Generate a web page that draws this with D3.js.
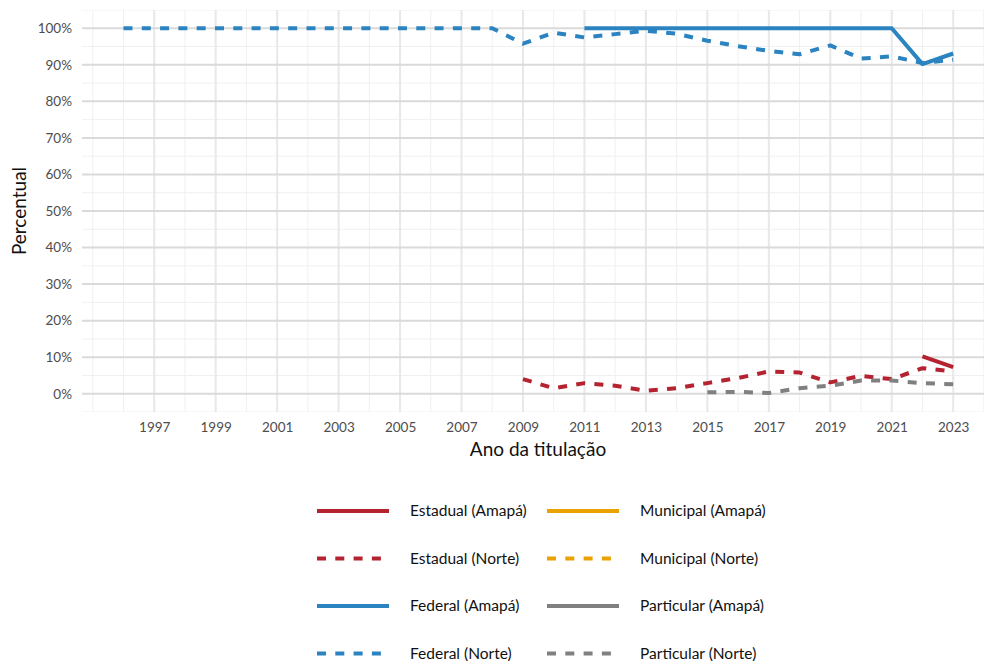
<!DOCTYPE html>
<html>
<head>
<meta charset="utf-8">
<script src="https://cdn.jsdelivr.net/npm/d3@7"></script>
<style>
  body { margin: 0; background: #fff; }
  svg text { font-family: Lato, "Open Sans", sans-serif; }
</style>
</head>
<body>
<div id="chart"></div>
<script>
// Percentual de titulados por dependência administrativa, Amapá vs Norte

const years = d3.range(1996, 2024);
const xTicks = d3.range(1997, 2024, 2);
const yTicks = d3.range(0, 101, 10);

const federalNorte = [
  [1996, 100], [1997, 100], [1998, 100], [1999, 100], [2000, 100], [2001, 100],
  [2002, 100], [2003, 100], [2004, 100], [2005, 100], [2006, 100], [2007, 100],
  [2008, 100], [2009, 95.8], [2010, 98.8], [2011, 97.5], [2012, 98.4], [2013, 99.3],
  [2014, 98.5], [2015, 96.6], [2016, 95.1], [2017, 93.8], [2018, 92.9], [2019, 95.3],
  [2020, 91.7], [2021, 92.3], [2022, 90.5], [2023, 91.4]
];
const federalAmapa = [
  [2011, 100], [2012, 100], [2013, 100], [2014, 100], [2015, 100], [2016, 100],
  [2017, 100], [2018, 100], [2019, 100], [2020, 100], [2021, 100], [2022, 90.2], [2023, 93.1]
];
const estadualAmapa = [[2022, 10.2], [2023, 7.3]];
const estadualNorte = [
  [2009, 4.0], [2010, 1.5], [2011, 2.9], [2012, 2.2], [2013, 0.8], [2014, 1.5],
  [2015, 2.9], [2016, 4.3], [2017, 6.1], [2018, 5.8], [2019, 3.1], [2020, 4.9],
  [2021, 4.0], [2022, 7.0], [2023, 6.1]
];
const municipalAmapa = [];
const municipalNorte = [];
const particularAmapa = [];
const particularNorte = [
  [2015, 0.4], [2016, 0.5], [2017, 0.2], [2018, 1.5], [2019, 2.2], [2020, 3.6],
  [2021, 3.6], [2022, 2.9], [2023, 2.6]
];

const series = [
  { label: "Estadual (Amapá)",   data: estadualAmapa,   color: "#b52230", dashed: false },
  { label: "Estadual (Norte)",   data: estadualNorte,   color: "#b52230", dashed: true },
  { label: "Federal (Amapá)",    data: federalAmapa,    color: "#2b83c0", dashed: false },
  { label: "Federal (Norte)",    data: federalNorte,    color: "#2b83c0", dashed: true },
  { label: "Municipal (Amapá)",  data: municipalAmapa,  color: "#e9a200", dashed: false },
  { label: "Municipal (Norte)",  data: municipalNorte,  color: "#e9a200", dashed: true },
  { label: "Particular (Amapá)", data: particularAmapa, color: "#808080", dashed: false },
  { label: "Particular (Norte)", data: particularNorte, color: "#808080", dashed: true }
];

const W = 984, H = 661;
const panel = { left: 82, right: 984, top: 10, bottom: 412 };

const x = d3.scaleLinear()
  .domain([d3.min(years) - 1.35, d3.max(years) + 1.35])
  .range([panel.left, panel.left + (d3.max(years) - d3.min(years) + 2.7) * 30.73]);
const y = d3.scaleLinear().domain([-5, 105]).range([panel.bottom, panel.top]);

const svg = d3.select("#chart").append("svg")
  .attr("width", W).attr("height", H);

svg.append("defs").append("clipPath").attr("id", "clip")
  .append("rect")
  .attr("x", panel.left).attr("y", panel.top)
  .attr("width", panel.right - panel.left).attr("height", panel.bottom - panel.top);

const grid = svg.append("g").attr("clip-path", "url(#clip)");

// minor grid
grid.selectAll(".vminor").data(d3.range(1994, 2026))
  .join("line")
  .attr("x1", d => x(d)).attr("x2", d => x(d))
  .attr("y1", panel.top).attr("y2", panel.bottom)
  .attr("stroke", "#f0f0f0").attr("stroke-width", 1);
grid.selectAll(".hminor").data(d3.range(-5, 106, 10))
  .join("line")
  .attr("x1", panel.left).attr("x2", panel.right)
  .attr("y1", d => y(d)).attr("y2", d => y(d))
  .attr("stroke", "#f0f0f0").attr("stroke-width", 1);

// major grid
grid.selectAll(".vmajor").data(xTicks)
  .join("line")
  .attr("x1", d => x(d)).attr("x2", d => x(d))
  .attr("y1", panel.top).attr("y2", panel.bottom)
  .attr("stroke", "#e8e8e8").attr("stroke-width", 2);
grid.selectAll(".hmajor").data(yTicks)
  .join("line")
  .attr("x1", panel.left).attr("x2", panel.right)
  .attr("y1", d => y(d)).attr("y2", d => y(d))
  .attr("stroke", "#dadada").attr("stroke-width", 2);

// axes (text only)
const xAxis = svg.append("g")
  .attr("transform", `translate(0,${panel.bottom})`)
  .call(d3.axisBottom(x).tickValues(xTicks).tickFormat(d3.format("d")).tickSize(0).tickPadding(10));
const yAxis = svg.append("g")
  .attr("transform", `translate(${panel.left},0)`)
  .call(d3.axisLeft(y).tickValues(yTicks).tickFormat(d => d + "%").tickSize(0).tickPadding(10));
[xAxis, yAxis].forEach(a => {
  a.select(".domain").remove();
  a.selectAll("text")
    .attr("fill", "#4d4d4d")
    .style("font-size", "13.5px")
    .style("font-family", "Lato, 'Open Sans', sans-serif");
});

svg.append("text")
  .attr("x", 538).attr("y", 456)
  .attr("text-anchor", "middle")
  .attr("fill", "#111")
  .style("font-size", "19px")
  .text("Ano da titulação");

svg.append("text")
  .attr("transform", `translate(26,${(panel.top + panel.bottom) / 2}) rotate(-90)`)
  .attr("text-anchor", "middle")
  .attr("fill", "#111")
  .style("font-size", "19px")
  .text("Percentual");

// lines
const line = d3.line().x(d => x(d[0])).y(d => y(d[1]));
const lines = svg.append("g").attr("clip-path", "url(#clip)");
series.filter(s => s.data.length).forEach(s => {
  lines.append("path")
    .datum(s.data)
    .attr("d", line)
    .attr("fill", "none")
    .attr("stroke", s.color)
    .attr("stroke-width", 4)
    .attr("stroke-linejoin", "round")
    .attr("stroke-dasharray", s.dashed ? "9,9.3" : null);
});

// legend: two columns, four rows
const legend = svg.append("g");
const colX = [317, 547];
const rowY = [511, 558.5, 606, 653.5];
series.forEach((s, i) => {
  const col = Math.floor(i / 4), row = i % 4;
  const g = legend.append("g").attr("transform", `translate(${colX[col]},${rowY[row]})`);
  g.append("line")
    .attr("x1", 0).attr("x2", 72)
    .attr("y1", 0).attr("y2", 0)
    .attr("stroke", s.color)
    .attr("stroke-width", 4)
    .attr("stroke-dasharray", s.dashed ? "9,9.3" : null);
  g.append("text")
    .attr("x", 93).attr("y", 0)
    .attr("dy", "0.35em")
    .attr("fill", "#111")
    .style("font-size", "15.5px")
    .text(s.label);
});
</script>
</body>
</html>
